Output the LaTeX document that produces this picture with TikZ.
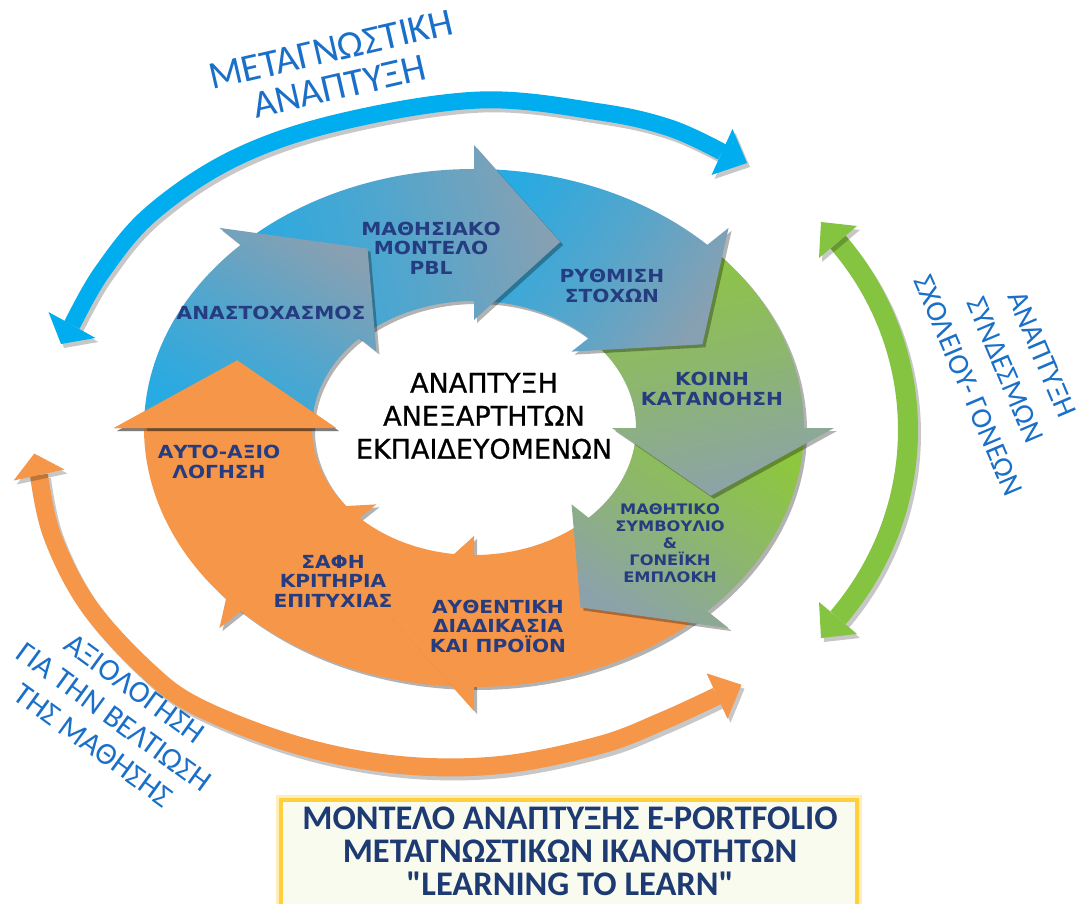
\documentclass[tikz,border=0pt]{standalone}
\usepackage{fontspec}
\setmainfont{DejaVu Sans}
\newfontfamily\dvs{DejaVu Sans}
\newfontfamily\dvsmed{DejaVu Sans}[FakeBold=0.8]
\newfontfamily\carl{Carlito}
\usetikzlibrary{shadows}
\definecolor{ringblue}{RGB}{40,170,226}
\definecolor{ringgray}{RGB}{135,160,178}
\definecolor{ringgreen}{RGB}{141,198,63}
\definecolor{greengray}{RGB}{140,162,170}
\definecolor{ringorange}{RGB}{245,150,72}
\definecolor{labnavy}{RGB}{38,60,128}
\definecolor{outblue}{RGB}{0,174,239}
\definecolor{outgreen}{RGB}{132,196,65}
\definecolor{outorange}{RGB}{245,150,72}
\definecolor{captblue}{RGB}{26,112,200}
\definecolor{boxyellow}{RGB}{255,208,60}
\definecolor{boxfill}{RGB}{249,251,238}
\definecolor{boxtext}{RGB}{30,58,115}
% ring arrow: #1 = head base angle, #2 = style
\newcommand\RingArrow[2]{%
 \pgfmathsetmacro\raTail{#1+45}%
 \pgfmathsetmacro\raTip{#1-20}%
 \path[#2] ({474+330*cos(\raTail)},{428-259*sin(\raTail)})
   arc[start angle={-\raTail}, end angle={-(#1)}, x radius=330, y radius=259]
   -- ({474+360*cos(#1)},{428-283*sin(#1)})
   -- ({474+252*cos(\raTip)},{428-198*sin(\raTip)})
   -- ({474+138*cos(#1)},{428-108*sin(#1)})
   -- ({474+162*cos(#1)},{428-127*sin(#1)})
   arc[start angle={-(#1)}, end angle={-\raTail}, x radius=162, y radius=127]
   -- cycle;}
\begin{document}
\begin{tikzpicture}[x=1pt,y=-1pt,
  shd/.style={drop shadow={shadow xshift=3pt,shadow yshift=-3pt,opacity=0.3,fill=black}},
  blueseg/.style={shd, top color=ringblue, bottom color=ringgray, middle color=ringblue!55!ringgray},
  greenseg/.style={shd, top color=ringgreen, bottom color=greengray, middle color=ringgreen!55!greengray},
  orangeseg/.style={shd, fill=ringorange},
  ringlab/.style={text=labnavy, font=\dvs\bfseries\fontsize{18}{19.5}\selectfont, align=center, xscale=1.12, inner sep=0pt},
  smallring/.style={text=labnavy, font=\dvs\bfseries\fontsize{14.5}{17}\selectfont, align=center, xscale=1.12, inner sep=0pt},
  centlab/.style={text=black, font=\dvsmed\fontsize{27}{33}\selectfont, align=center, inner sep=0pt},
  outlab/.style={text=captblue, align=center, inner sep=0pt},
  arcshadow/.style={draw=black, opacity=0.22}
]
\useasboundingbox (0,0) rectangle (1080,904);
\fill[white] (0,0) rectangle (1080,904);

% ---------- outer blue arc ----------
\draw[arcshadow, line width=17pt, shift={(3,4)}] plot[smooth,tension=0.6] coordinates {(722,152) (670,128) (600,112) (480,100) (340,122) (235,158) (152,213) (102,272) (72,325)};
\draw[outblue, line width=17pt] plot[smooth,tension=0.6] coordinates {(722,152) (670,128) (600,112) (480,100) (340,122) (235,158) (152,213) (102,272) (72,325)};
\fill[black, opacity=0.22] (735.5,133) -- (750,167) -- (714.5,179) -- cycle;
\fill[outblue] (732.5,129) -- (747,163) -- (711.5,175) -- cycle;
\fill[black, opacity=0.22] (98.5,342) -- (64,348) -- (51.5,316) -- cycle;
\fill[outblue] (95.5,338) -- (61,344) -- (48.5,312) -- cycle;

% ---------- outer green arc ----------
\draw[arcshadow, line width=20pt, shift={(3,4)}] (838,242) arc[start angle=-39.4, end angle=39.4, x radius=308, y radius=296];
\draw[outgreen, line width=20pt] (838,242) arc[start angle=-39.4, end angle=39.4, x radius=308, y radius=296];
\fill[black, opacity=0.22] (860,230) -- (824,226) -- (822,262) -- cycle;
\fill[outgreen] (857,226) -- (821,222) -- (819,258) -- cycle;
\fill[black, opacity=0.22] (860,638) -- (824,642) -- (822,606) -- cycle;
\fill[outgreen] (857,634) -- (821,638) -- (819,602) -- cycle;

% ---------- outer orange arc ----------
\draw[arcshadow, line width=18pt, shift={(3,4)}] plot[smooth,tension=0.6] coordinates {(39,475) (52,535) (88,605) (147,670) (200,708) (300,746) (400,765) (500,765) (600,745) (665,720) (717,696)};
\draw[outorange, line width=18pt] plot[smooth,tension=0.6] coordinates {(39,475) (52,535) (88,605) (147,670) (200,708) (300,746) (400,765) (500,765) (600,745) (665,720) (717,696)};
\fill[black, opacity=0.22] (67.4,473.5) -- (37.3,457.5) -- (16.6,484.5) -- cycle;
\fill[outorange] (64.4,469.5) -- (34.3,453.5) -- (13.6,480.5) -- cycle;
\fill[black, opacity=0.22] (730.5,722.7) -- (744.5,688.7) -- (709.5,677.3) -- cycle;
\fill[outorange] (727.5,718.7) -- (741.5,684.7) -- (706.5,673.3) -- cycle;

% ---------- ring of arrows ----------
\RingArrow{180}{orangeseg}
\RingArrow{-135}{orangeseg}
\RingArrow{-90}{orangeseg}
\RingArrow{-45}{greenseg, shading angle=-32.5}
\RingArrow{0}{greenseg, shading angle=12.5}
\RingArrow{45}{blueseg, shading angle=57.5}
\RingArrow{90}{blueseg, shading angle=102.5}
\RingArrow{135}{blueseg, shading angle=147.5}
% head of the first arrow lies over the tail of the last one
\path[orangeseg] (114,428) -- ({474+252*cos(160)},{428-198*sin(160)}) -- (336,428) -- cycle;

% ---------- ring labels ----------
\node[ringlab] (anast) at (271,313) {ΑΝΑΣΤΟΧΑΣΜΟΣ};
\node[ringlab] (mathis) at (431,248) {ΜΑΘΗΣΙΑΚΟ\\ΜΟΝΤΕΛΟ\\PBL};
\node[ringlab] (rythm) at (612,286) {ΡΥΘΜΙΣΗ\\ΣΤΟΧΩΝ};
\node[ringlab] (koinh) at (712,389) {ΚΟΙΝΗ\\ΚΑΤΑΝΟΗΣΗ};
\node[smallring] (mathit) at (670,543) {ΜΑΘΗΤΙΚΟ\\ΣΥΜΒΟΥΛΙΟ\\\&\\ΓΟΝΕΪΚΗ\\ΕΜΠΛΟΚΗ};
\node[ringlab] (auth) at (498,626) {ΑΥΘΕΝΤΙΚΗ\\ΔΙΑΔΙΚΑΣΙΑ\\ΚΑΙ ΠΡΟΪΟΝ};
\node[ringlab] (safh) at (333,581) {ΣΑΦΗ\\ΚΡΙΤΗΡΙΑ\\ΕΠΙΤΥΧΙΑΣ};
\node[ringlab] (ayto) at (219,462) {ΑΥΤΟ-ΑΞΙΟ\\ΛΟΓΗΣΗ};

% ---------- centre ----------
\node[centlab] (centre) at (484,416) {ΑΝΑΠΤΥΞΗ\\ΑΝΕΞΑΡΤΗΤΩΝ\\ΕΚΠΑΙΔΕΥΟΜΕΝΩΝ};

% ---------- outer captions ----------
\node[outlab, font=\carl\fontsize{39}{38}\selectfont, rotate=13] (meta) at (335,68) {ΜΕΤΑΓΝΩΣΤΙΚΗ\\ΑΝΑΠΤΥΞΗ};
\node[outlab, font=\carl\fontsize{29.5}{40}\selectfont, rotate=-67] (synd) at (1005,370) {ΑΝΑΠΤΥΞΗ\\ΣΥΝΔΕΣΜΩΝ\\ΣΧΟΛΕΙΟΥ- ΓΟΝΕΩΝ};
\node[outlab, font=\carl\fontsize{31}{35}\selectfont, rotate=-36] (axiol) at (114,717) {ΑΞΙΟΛΟΓΗΣΗ\\ΓΙΑ ΤΗΝ ΒΕΛΤΙΩΣΗ\\ΤΗΣ ΜΑΘΗΣΗΣ};

% ---------- title box ----------
\draw[boxyellow, opacity=0.35, line width=10pt] (281,800) rectangle (857,920);
\draw[boxyellow, line width=4pt, fill=boxfill] (281,800) rectangle (857,920);
\node[text=boxtext, font=\carl\bfseries\fontsize{34.5}{33}\selectfont, align=center, inner sep=0pt] (title) at (570,851) {ΜΟΝΤΕΛΟ ΑΝΑΠΤΥΞΗΣ E-PORTFOLIO\\ΜΕΤΑΓΝΩΣΤΙΚΩΝ ΙΚΑΝΟΤΗΤΩΝ\\"LEARNING TO LEARN"};
\end{tikzpicture}
\end{document}
